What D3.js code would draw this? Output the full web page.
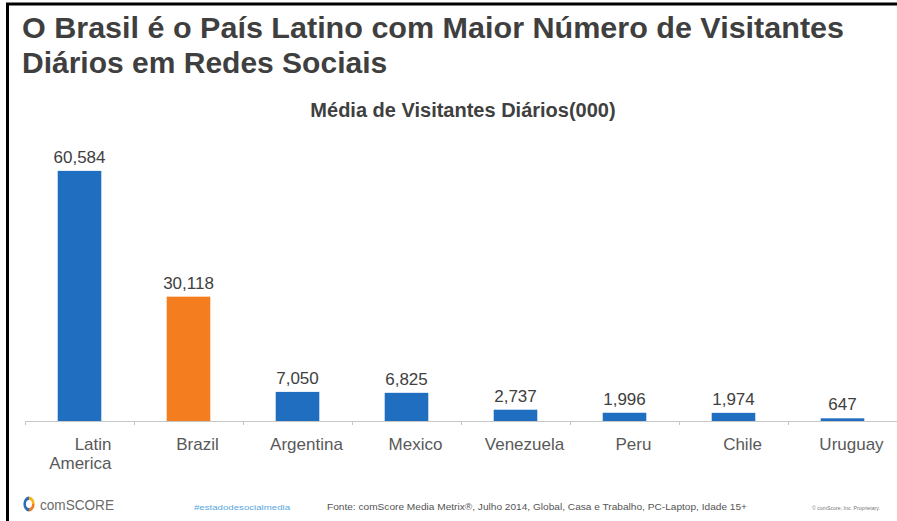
<!DOCTYPE html>
<html>
<head>
<meta charset="utf-8">
<script src="https://cdn.jsdelivr.net/npm/d3@7"></script>
<style>
  html, body { margin: 0; padding: 0; background: #fff; }
  svg { display: block; font-family: 'Liberation Sans', Arial, sans-serif; }
</style>
</head>
<body>
<svg id="chart" width="897" height="521"></svg>
<script>
// data
const categories = ['Latin America', 'Brazil', 'Argentina', 'Mexico', 'Venezuela', 'Peru', 'Chile', 'Uruguay'];
const visitors   = [60584, 30118, 7050, 6825, 2737, 1996, 1974, 647];
const highlight  = 'Brazil';

const titleLines = ['O Brasil é o País Latino com Maior Número de Visitantes', 'Diários em Redes Sociais'];
const subtitle   = 'Média de Visitantes Diários(000)';
const sourceText = 'Fonte: comScore Media Metrix®, Julho 2014, Global, Casa e Trabalho,  PC-Laptop, Idade 15+';

const svg = d3.select('#chart');
const width = 897;
const height = 521;
const baseY = 421;

const blue = '#1f6ebf';
const orange = '#f47d20';

// slide frame
svg.append('line')
  .attr('x1', 6).attr('x2', width).attr('y1', 4).attr('y2', 4)
  .attr('stroke', '#000').attr('stroke-width', 3);
svg.append('line')
  .attr('x1', 7.5).attr('x2', 7.5).attr('y1', 3).attr('y2', height)
  .attr('stroke', '#000').attr('stroke-width', 3);

// title
svg.append('g').selectAll('text')
  .data(titleLines)
  .join('text')
  .attr('x', 22)
  .attr('y', (d, i) => 38 + i * 35)
  .attr('font-size', 30)
  .attr('font-weight', 'bold')
  .attr('fill', '#3f3f3f')
  .each(function (d, i) {
    if (i === 0) d3.select(this).attr('textLength', 822).attr('lengthAdjust', 'spacingAndGlyphs');
  })
  .text(d => d);

svg.append('text')
  .attr('x', 463).attr('y', 117)
  .attr('text-anchor', 'middle')
  .attr('font-size', 20)
  .attr('font-weight', 'bold')
  .attr('fill', '#404040')
  .text(subtitle);

// scales
const x = d3.scaleBand()
  .domain(categories)
  .range([25, width])
  .paddingInner(0.6)
  .paddingOuter(0.3);

const y = d3.scaleLinear()
  .domain([0, 70000])
  .range([baseY, 132]);

// bars
svg.append('g').selectAll('rect')
  .data(visitors)
  .join('rect')
  .attr('x', (d, i) => x(categories[i]))
  .attr('y', d => y(d))
  .attr('width', x.bandwidth())
  .attr('height', d => baseY - y(d))
  .attr('fill', (d, i) => categories[i] === highlight ? orange : blue);

// value labels
svg.append('g').selectAll('text')
  .data(visitors)
  .join('text')
  .attr('x', (d, i) => x(categories[i]) + x.bandwidth() / 2)
  .attr('y', d => y(d) - 8)
  .attr('text-anchor', 'middle')
  .attr('font-size', 17)
  .attr('fill', '#404040')
  .text(d => d3.format(',')(d));

// axis with ticks between categories
const edge = d3.scaleLinear().domain([0, categories.length]).range([25, width]);
const axis = svg.append('g')
  .attr('transform', 'translate(0,' + baseY + ')')
  .call(d3.axisBottom(edge).ticks(categories.length).tickSize(4).tickSizeOuter(0).tickFormat(''));
axis.select('.domain').attr('stroke', '#c6c6c6');
axis.selectAll('.tick line').attr('stroke', '#c6c6c6');

// category labels
const labels = svg.append('g').selectAll('text')
  .data(categories)
  .join('text')
  .attr('font-size', 17)
  .attr('fill', '#595959')
  .attr('y', 450);

labels.each(function (d) {
  const cx = x(d) + x.bandwidth() / 2;
  const words = d.split(' ');
  const t = d3.select(this);
  if (words.length > 1) {
    t.attr('text-anchor', 'end');
    words.forEach((w, i) => {
      t.append('tspan').attr('x', cx + 32).attr('dy', i === 0 ? 0 : 19).text(w);
    });
  } else {
    t.attr('text-anchor', 'middle').attr('x', cx + 9).text(d);
  }
});

// footer
const logo = svg.append('g').attr('transform', 'translate(29,504) scale(0.75,1)');
const ring = d3.arc().innerRadius(4).outerRadius(7.5);
logo.append('path').attr('d', ring({ startAngle: Math.PI, endAngle: 2 * Math.PI })).attr('fill', '#2b6fb6');
logo.append('path').attr('d', ring({ startAngle: 0, endAngle: Math.PI * 0.5 })).attr('fill', '#f7b31b');
logo.append('path').attr('d', ring({ startAngle: Math.PI * 0.5, endAngle: Math.PI })).attr('fill', '#ee7d22');

svg.append('text')
  .attr('x', 40).attr('y', 510)
  .attr('font-size', 14)
  .attr('fill', '#6b6b6b')
  .attr('textLength', 74)
  .attr('lengthAdjust', 'spacingAndGlyphs')
  .text('comSCORE');

svg.append('text')
  .attr('x', 194).attr('y', 510)
  .attr('font-size', 8)
  .attr('fill', '#58a7df')
  .attr('textLength', 96)
  .attr('lengthAdjust', 'spacingAndGlyphs')
  .text('#estadodesocialmedia');

svg.append('text')
  .attr('x', 327).attr('y', 510)
  .attr('font-size', 9)
  .attr('fill', '#555')
  .attr('textLength', 420)
  .attr('lengthAdjust', 'spacingAndGlyphs')
  .text(sourceText);

svg.append('text')
  .attr('x', 812).attr('y', 510)
  .attr('font-size', 6)
  .attr('fill', '#777')
  .attr('textLength', 68)
  .attr('lengthAdjust', 'spacingAndGlyphs')
  .text('© comScore, Inc. Proprietary.');
</script>
</body>
</html>
